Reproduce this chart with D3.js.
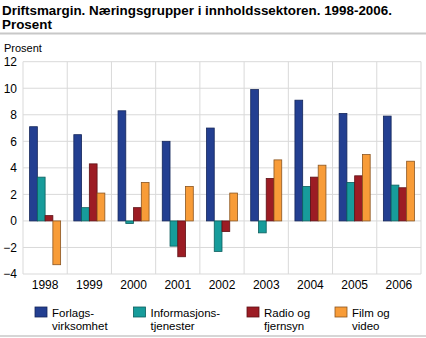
<!DOCTYPE html>
<html><head><meta charset="utf-8">
<script src="https://cdn.jsdelivr.net/npm/d3@7"></script>
<style>body{margin:0;background:#fff}svg{display:block;font-family:"Liberation Sans",Arial,sans-serif}</style>
</head><body>
<svg id="c" width="426" height="338"></svg>
<script>
const years = ["1998","1999","2000","2001","2002","2003","2004","2005","2006"];
const seriesNames = ["Forlags-\nvirksomhet","Informasjons-\ntjenester","Radio og\nfjernsyn","Film og\nvideo"];
const forlag = [7.1,6.5,8.3,6.0,7.0,9.9,9.1,8.1,7.9];
const info = [3.3,1.0,-0.2,-1.9,-2.3,-0.9,2.6,2.9,2.7];
const radio = [0.4,4.3,1.0,-2.7,-0.8,3.2,3.3,3.4,2.5];
const film = [-3.3,2.1,2.9,2.6,2.1,4.6,4.2,5.0,4.5];
const yTicks = [-4,-2,0,2,4,6,8,10,12];
const colors = ["#233f91","#179c9b","#9c1c24","#f89c38"];
const strokes = ["#14265a","#0d5e5d","#5e1015","#8a5520"];
const allSeries = [forlag, info, radio, film];

const svg = d3.select("#c");
const L = 23, R = 421, T = 61.7, B = 274;
const y = d3.scaleLinear().domain([-4,12]).range([B,T]);
const x0 = d3.scaleBand().domain(years).range([L,R]).padding(0);
const x1 = d3.scaleBand().domain(d3.range(4)).range([6.6, x0.bandwidth()-6.6]).padding(0);

// title
const title = svg.append("g").attr("font-weight","bold").attr("font-size","13.4px").attr("fill","#000");
title.append("text").attr("x",2).attr("y",14.5).text("Driftsmargin. Næringsgrupper i innholdssektoren. 1998-2006.");
title.append("text").attr("x",2).attr("y",29).text("Prosent");
svg.append("line").attr("x1",0).attr("x2",426).attr("y1",33.5).attr("y2",33.5).attr("stroke","#c8c8c8").attr("stroke-width",2);
svg.append("line").attr("x1",0).attr("x2",426).attr("y1",336).attr("y2",336).attr("stroke","#c8c8c8").attr("stroke-width",1.5);

svg.append("text").attr("x",4).attr("y",52).attr("font-size","11px").text("Prosent");

// grid
svg.append("g").selectAll("line").data(yTicks).join("line")
  .attr("x1",L).attr("x2",R).attr("y1",d=>y(d)).attr("y2",d=>y(d))
  .attr("stroke","#d9d9d9").attr("stroke-width",1);
svg.append("g").selectAll("line").data(d3.range(years.length+1)).join("line")
  .attr("x1",d=>L+d*x0.bandwidth()).attr("x2",d=>L+d*x0.bandwidth())
  .attr("y1",T).attr("y2",B).attr("stroke","#d9d9d9").attr("stroke-width",1);

// y axis labels
const yAxis = d3.axisLeft(y).tickValues(yTicks).tickSize(0).tickPadding(0);
const ya = svg.append("g").attr("transform","translate(17,0)").call(yAxis);
ya.select(".domain").remove();
ya.selectAll("text").attr("font-size","12px").attr("fill","#000").attr("font-family","Liberation Sans, Arial, sans-serif");

// x axis labels
const xAxis = d3.axisBottom(x0).tickSize(0).tickPadding(0);
const xa = svg.append("g").attr("transform","translate(0,280)").call(xAxis);
xa.select(".domain").remove();
xa.selectAll("text").attr("font-size","12px").attr("fill","#000").attr("font-family","Liberation Sans, Arial, sans-serif");

// bars
const g = svg.append("g");
years.forEach((yr,i)=>{
  allSeries.forEach((s,k)=>{
    const v = s[i];
    g.append("rect")
      .attr("x", x0(yr)+x1(k))
      .attr("width", x1.bandwidth())
      .attr("y", y(Math.max(0,v)))
      .attr("height", Math.abs(y(v)-y(0)))
      .attr("fill", colors[k]).attr("stroke", strokes[k]).attr("stroke-width",0.8);
  });
});

// legend
const legX = [35,133.5,247,335];
const lg = svg.append("g").attr("font-size","11.5px");
seriesNames.forEach((n,k)=>{
  lg.append("rect").attr("x",legX[k]).attr("y",307).attr("width",12).attr("height",10)
    .attr("fill",colors[k]).attr("stroke",strokes[k]).attr("stroke-width",0.8);
  const t = lg.append("text").attr("x",legX[k]+17).attr("y",317);
  n.split("\n").forEach((s,j)=>{
    t.append("tspan").attr("x",legX[k]+17).attr("dy", j===0?0:13.3).text(s);
  });
});
</script>
</body></html>
